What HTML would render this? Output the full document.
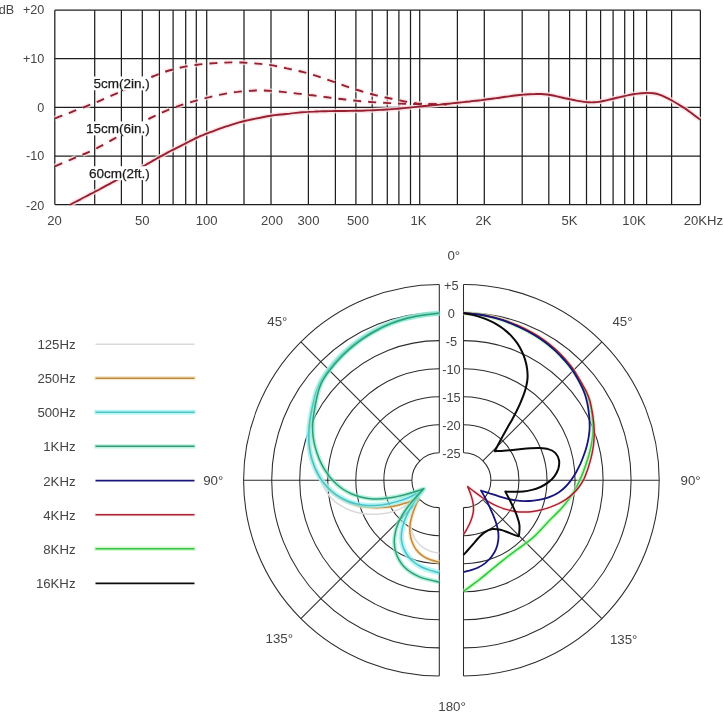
<!DOCTYPE html><html><head><meta charset="utf-8"><title>Frequency response and polar pattern</title>
<style>html,body{margin:0;padding:0;background:#fff}svg{display:block}text{font-family:"Liberation Sans",sans-serif}</style></head><body>
<svg width="723" height="723" viewBox="0 0 723 723">
<rect width="723" height="723" fill="#ffffff"/>
<g stroke="#1e1e1e" stroke-width="1.25" fill="none"><path d="M54.8 10.2 V204.6"/><path d="M94.7 10.2 V204.6"/><path d="M121.4 10.2 V204.6"/><path d="M142.3 10.2 V204.6"/><path d="M159.4 10.2 V204.6"/><path d="M173.1 10.2 V204.6"/><path d="M185.7 10.2 V204.6"/><path d="M196.3 10.2 V204.6"/><path d="M206.7 10.2 V204.6"/><path d="M244.0 10.2 V204.6"/><path d="M271.0 10.2 V204.6"/><path d="M308.4 10.2 V204.6"/><path d="M335.4 10.2 V204.6"/><path d="M355.9 10.2 V204.6"/><path d="M372.2 10.2 V204.6"/><path d="M387.3 10.2 V204.6"/><path d="M398.9 10.2 V204.6"/><path d="M410.5 10.2 V204.6"/><path d="M419.7 10.2 V204.6"/><path d="M457.4 10.2 V204.6"/><path d="M484.3 10.2 V204.6"/><path d="M522.2 10.2 V204.6"/><path d="M548.8 10.2 V204.6"/><path d="M569.6 10.2 V204.6"/><path d="M586.5 10.2 V204.6"/><path d="M600.6 10.2 V204.6"/><path d="M613.1 10.2 V204.6"/><path d="M624.7 10.2 V204.6"/><path d="M633.6 10.2 V204.6"/><path d="M646.6 10.2 V204.6"/><path d="M671.6 10.2 V204.6"/><path d="M700.4 10.2 V204.6"/><path d="M54.8 10.2 H700.4"/><path d="M54.8 58.5 H700.4"/><path d="M54.8 107.4 H700.4"/><path d="M54.8 156.2 H700.4"/><path d="M54.8 204.6 H700.4"/></g>
<g fill="none" stroke="#942030" stroke-linecap="butt">
<path d="M69.9 204.8 C70.8 204.3 73.5 203.0 75.2 202.0 C77.0 201.1 78.8 200.2 80.6 199.3 C82.3 198.3 84.1 197.4 85.9 196.5 C87.7 195.6 89.4 194.6 91.2 193.7 C93.0 192.8 94.8 191.8 96.5 190.9 C98.3 190.0 100.1 189.0 101.8 188.1 C103.6 187.1 105.3 186.2 107.1 185.2 C108.9 184.3 110.6 183.3 112.4 182.4 C114.2 181.4 115.9 180.5 117.7 179.5 C119.5 178.6 121.2 177.6 123.0 176.7 C124.8 175.8 126.6 174.9 128.4 174.0 C130.2 173.1 131.9 172.2 133.7 171.3 C135.5 170.4 137.3 169.5 139.1 168.6 C140.9 167.6 142.6 166.7 144.4 165.7 C146.1 164.7 147.8 163.7 149.6 162.7 C151.3 161.7 153.0 160.7 154.8 159.7 C156.5 158.7 158.2 157.7 160.0 156.7 C161.7 155.8 163.5 154.8 165.3 153.8 C167.0 152.9 168.8 151.9 170.5 151.0 C172.3 150.1 174.1 149.2 175.9 148.3 C177.7 147.4 179.5 146.5 181.3 145.6 C183.1 144.7 184.8 143.8 186.6 142.9 C188.4 142.0 190.2 141.0 192.0 140.1 C193.8 139.2 195.5 138.3 197.4 137.5 C199.2 136.6 201.0 135.8 202.9 135.1 C204.7 134.3 206.6 133.6 208.4 132.8 C210.3 132.1 212.2 131.5 214.1 130.8 C215.9 130.1 217.8 129.4 219.7 128.7 C221.6 128.1 223.5 127.4 225.4 126.7 C227.3 126.1 229.2 125.5 231.1 124.9 C233.0 124.3 234.9 123.7 236.8 123.1 C238.8 122.6 240.7 122.0 242.6 121.5 C244.6 121.0 246.5 120.6 248.5 120.1 C250.4 119.7 252.4 119.3 254.3 118.9 C256.3 118.5 258.3 118.1 260.2 117.7 C262.2 117.3 264.2 116.9 266.1 116.5 C268.1 116.2 270.1 115.8 272.0 115.5 C274.0 115.2 276.0 115.0 278.0 114.8 C280.0 114.6 282.0 114.4 284.0 114.2 C286.0 114.0 288.0 113.8 289.9 113.6 C291.9 113.3 293.9 113.1 295.9 112.9 C297.9 112.7 299.9 112.5 301.9 112.3 C303.9 112.2 305.9 112.0 307.9 111.9 C309.9 111.7 311.9 111.6 313.9 111.6 C315.9 111.5 317.9 111.5 319.9 111.4 C321.9 111.3 323.9 111.3 325.9 111.2 C327.9 111.2 329.9 111.1 331.9 111.1 C333.9 111.1 335.9 111.0 337.9 111.0 C339.9 111.0 341.9 111.0 343.9 111.0 C345.9 110.9 347.9 110.9 349.9 110.9 C351.9 110.9 353.9 110.9 355.9 110.8 C357.9 110.8 359.9 110.7 361.9 110.7 C363.9 110.6 365.9 110.5 367.9 110.4 C369.9 110.4 371.9 110.3 373.9 110.2 C375.9 110.1 377.9 110.0 379.9 109.9 C381.9 109.8 383.9 109.7 385.9 109.5 C387.9 109.4 389.9 109.3 391.9 109.1 C393.9 109.0 395.9 108.8 397.9 108.7 C399.9 108.5 401.9 108.3 403.9 108.1 C405.9 108.0 407.9 107.8 409.9 107.6 C411.9 107.4 413.9 107.2 415.9 106.9 C417.8 106.7 419.8 106.5 421.8 106.3 C423.8 106.1 425.8 105.9 427.8 105.7 C429.8 105.5 431.8 105.3 433.8 105.1 C435.8 104.9 437.8 104.7 439.8 104.6 C441.8 104.4 443.7 104.2 445.7 104.0 C447.7 103.8 449.7 103.6 451.7 103.4 C453.7 103.2 455.7 103.0 457.7 102.8 C459.7 102.6 461.7 102.4 463.7 102.1 C465.7 101.9 467.6 101.7 469.6 101.5 C471.6 101.2 473.6 101.0 475.6 100.8 C477.6 100.6 479.6 100.3 481.6 100.1 C483.6 99.9 485.6 99.6 487.5 99.3 C489.5 99.1 491.5 98.8 493.5 98.5 C495.5 98.2 497.5 98.0 499.4 97.7 C501.4 97.4 503.4 97.1 505.4 96.8 C507.4 96.6 509.3 96.3 511.3 96.0 C513.3 95.7 515.3 95.4 517.3 95.2 C519.3 95.0 521.3 94.7 523.3 94.6 C525.2 94.4 527.2 94.3 529.2 94.2 C531.2 94.1 533.2 94.0 535.2 94.0 C537.2 93.9 539.2 93.9 541.2 94.0 C543.2 94.1 545.2 94.3 547.2 94.5 C549.2 94.8 551.1 95.2 553.1 95.5 C555.1 95.9 557.0 96.4 559.0 96.8 C560.9 97.3 562.9 97.7 564.8 98.2 C566.8 98.6 568.7 99.0 570.7 99.4 C572.7 99.8 574.6 100.2 576.6 100.6 C578.6 100.9 580.5 101.3 582.5 101.6 C584.5 101.9 586.5 102.2 588.5 102.3 C590.4 102.4 592.4 102.4 594.4 102.3 C596.4 102.2 598.4 101.9 600.4 101.6 C602.3 101.3 604.3 100.8 606.2 100.4 C608.2 100.0 610.1 99.4 612.1 99.0 C614.0 98.5 616.0 98.0 617.9 97.5 C619.9 97.1 621.8 96.6 623.8 96.2 C625.7 95.7 627.7 95.3 629.6 94.9 C631.6 94.5 633.6 94.2 635.5 93.9 C637.5 93.6 639.5 93.4 641.5 93.2 C643.5 93.0 645.5 92.9 647.5 92.9 C649.5 92.9 651.4 93.0 653.4 93.3 C655.4 93.6 657.3 94.0 659.2 94.6 C661.1 95.2 662.9 96.0 664.7 96.8 C666.5 97.6 668.3 98.6 670.1 99.5 C671.8 100.5 673.6 101.5 675.3 102.5 C677.0 103.5 678.7 104.5 680.4 105.6 C682.1 106.6 683.8 107.7 685.5 108.8 C687.1 110.0 688.7 111.1 690.4 112.3 C692.0 113.5 693.6 114.7 695.2 115.9 C696.8 117.1 699.2 118.9 700.0 119.5" stroke-width="5" stroke="#fbdfe2" opacity="0.8"/>
<path d="M54.8 118.5 C56.2 118.0 60.4 116.3 63.2 115.2 C66.0 114.2 68.8 113.1 71.6 112.0 C74.4 110.9 77.2 109.8 80.0 108.7 C82.8 107.6 85.6 106.6 88.4 105.4 C91.2 104.3 93.9 103.2 96.7 102.1 C99.5 100.9 102.2 99.7 105.0 98.5 C107.7 97.3 110.5 96.1 113.2 94.9 C116.0 93.7 118.7 92.4 121.4 91.2 C124.1 89.9 126.8 88.6 129.5 87.3 C132.2 86.0 134.9 84.6 137.6 83.3 C140.3 82.0 143.1 80.8 145.8 79.5 C148.5 78.3 151.3 77.1 154.1 76.0 C156.8 74.8 159.6 73.7 162.5 72.7 C165.3 71.7 168.1 70.8 171.0 70.0 C173.9 69.2 176.8 68.5 179.7 67.8 C182.7 67.1 185.6 66.5 188.6 66.0 C191.5 65.5 194.5 65.1 197.5 64.7 C200.4 64.3 203.4 64.0 206.4 63.7 C209.4 63.5 212.4 63.3 215.4 63.1 C218.4 62.9 221.4 62.7 224.4 62.6 C227.4 62.5 230.4 62.4 233.4 62.4 C236.4 62.4 239.4 62.4 242.4 62.5 C245.4 62.7 248.4 62.9 251.3 63.1 C254.3 63.3 257.3 63.6 260.3 63.9 C263.3 64.2 266.3 64.5 269.2 64.9 C272.2 65.3 275.2 65.9 278.1 66.5 C281.0 67.0 284.0 67.7 286.9 68.4 C289.8 69.0 292.7 69.7 295.7 70.4 C298.6 71.0 301.5 71.7 304.4 72.4 C307.3 73.2 310.2 74.0 313.1 74.9 C316.0 75.8 318.8 76.7 321.6 77.7 C324.5 78.6 327.3 79.6 330.2 80.6 C333.0 81.5 335.8 82.5 338.7 83.5 C341.5 84.5 344.3 85.6 347.1 86.6 C350.0 87.6 352.8 88.6 355.6 89.5 C358.5 90.4 361.4 91.3 364.3 92.1 C367.1 93.0 370.0 93.8 372.9 94.5 C375.8 95.2 378.8 95.9 381.7 96.6 C384.6 97.3 387.6 97.9 390.5 98.5 C393.4 99.1 396.4 99.7 399.3 100.3 C402.3 100.9 405.2 101.5 408.2 102.0 C411.1 102.5 414.1 103.0 417.0 103.4 C420.0 103.7 423.0 103.9 426.0 104.0 C429.0 104.1 432.0 104.1 435.0 104.2 C438.0 104.2 442.0 104.2 444.0 104.3 C446.0 104.3 446.5 104.3 447.0 104.3" stroke-width="5" stroke="#fbdfe2" opacity="0.7" stroke-dasharray="8 7"/>
<path d="M54.8 166.3 C56.2 165.7 60.3 164.0 63.1 162.8 C65.9 161.7 68.7 160.5 71.4 159.3 C74.2 158.2 77.0 157.0 79.8 155.8 C82.5 154.7 85.3 153.6 88.1 152.3 C90.8 151.1 93.6 149.9 96.2 148.5 C98.9 147.2 101.5 145.7 104.2 144.3 C106.8 142.8 109.4 141.3 112.0 139.9 C114.7 138.4 117.3 136.9 119.9 135.4 C122.5 133.9 125.1 132.4 127.7 130.9 C130.3 129.3 132.9 127.8 135.5 126.3 C138.1 124.8 140.7 123.3 143.3 121.8 C145.9 120.4 148.6 119.0 151.3 117.6 C154.0 116.3 156.7 114.9 159.4 113.7 C162.1 112.4 164.9 111.2 167.7 110.1 C170.4 108.9 173.2 107.8 176.1 106.8 C178.9 105.8 181.7 104.9 184.6 104.0 C187.5 103.1 190.4 102.2 193.3 101.4 C196.1 100.5 199.0 99.7 202.0 99.0 C204.9 98.2 207.8 97.5 210.7 96.8 C213.6 96.1 216.6 95.5 219.5 94.9 C222.5 94.2 225.4 93.6 228.4 93.1 C231.3 92.6 234.3 92.2 237.3 91.9 C240.3 91.5 243.3 91.2 246.3 91.0 C249.3 90.8 252.3 90.6 255.3 90.5 C258.3 90.5 261.3 90.4 264.3 90.5 C267.3 90.6 270.3 90.8 273.3 91.0 C276.3 91.2 279.3 91.6 282.2 91.9 C285.2 92.2 288.2 92.5 291.2 92.9 C294.2 93.2 297.2 93.5 300.2 93.9 C303.2 94.2 306.2 94.6 309.1 95.0 C312.1 95.3 315.1 95.7 318.1 96.1 C321.1 96.5 324.0 96.9 327.0 97.3 C330.0 97.7 333.0 98.1 336.0 98.5 C339.0 98.9 341.9 99.2 344.9 99.5 C347.9 99.9 350.9 100.2 353.9 100.5 C356.9 100.8 359.9 101.1 362.9 101.4 C365.9 101.6 368.9 101.9 371.9 102.1 C374.9 102.3 377.9 102.5 380.9 102.6 C383.9 102.8 386.9 102.9 389.9 103.1 C392.9 103.2 395.9 103.3 398.9 103.5 C401.9 103.6 404.9 103.7 407.9 103.8 C410.9 104.0 413.9 104.1 416.9 104.1 C419.9 104.2 422.9 104.3 425.9 104.3 C429.0 104.3 432.0 104.3 435.0 104.3 C438.0 104.3 442.0 104.3 444.0 104.3 C446.0 104.3 446.5 104.3 447.0 104.3" stroke-width="5" stroke="#fbdfe2" opacity="0.7" stroke-dasharray="8 7"/>
<path d="M54.8 118.5 C56.2 118.0 60.4 116.3 63.2 115.2 C66.0 114.2 68.8 113.1 71.6 112.0 C74.4 110.9 77.2 109.8 80.0 108.7 C82.8 107.6 85.6 106.6 88.4 105.4 C91.2 104.3 93.9 103.2 96.7 102.1 C99.5 100.9 102.2 99.7 105.0 98.5 C107.7 97.3 110.5 96.1 113.2 94.9 C116.0 93.7 118.7 92.4 121.4 91.2 C124.1 89.9 126.8 88.6 129.5 87.3 C132.2 86.0 134.9 84.6 137.6 83.3 C140.3 82.0 143.1 80.8 145.8 79.5 C148.5 78.3 151.3 77.1 154.1 76.0 C156.8 74.8 159.6 73.7 162.5 72.7 C165.3 71.7 168.1 70.8 171.0 70.0 C173.9 69.2 176.8 68.5 179.7 67.8 C182.7 67.1 185.6 66.5 188.6 66.0 C191.5 65.5 194.5 65.1 197.5 64.7 C200.4 64.3 203.4 64.0 206.4 63.7 C209.4 63.5 212.4 63.3 215.4 63.1 C218.4 62.9 221.4 62.7 224.4 62.6 C227.4 62.5 230.4 62.4 233.4 62.4 C236.4 62.4 239.4 62.4 242.4 62.5 C245.4 62.7 248.4 62.9 251.3 63.1 C254.3 63.3 257.3 63.6 260.3 63.9 C263.3 64.2 266.3 64.5 269.2 64.9 C272.2 65.3 275.2 65.9 278.1 66.5 C281.0 67.0 284.0 67.7 286.9 68.4 C289.8 69.0 292.7 69.7 295.7 70.4 C298.6 71.0 301.5 71.7 304.4 72.4 C307.3 73.2 310.2 74.0 313.1 74.9 C316.0 75.8 318.8 76.7 321.6 77.7 C324.5 78.6 327.3 79.6 330.2 80.6 C333.0 81.5 335.8 82.5 338.7 83.5 C341.5 84.5 344.3 85.6 347.1 86.6 C350.0 87.6 352.8 88.6 355.6 89.5 C358.5 90.4 361.4 91.3 364.3 92.1 C367.1 93.0 370.0 93.8 372.9 94.5 C375.8 95.2 378.8 95.9 381.7 96.6 C384.6 97.3 387.6 97.9 390.5 98.5 C393.4 99.1 396.4 99.7 399.3 100.3 C402.3 100.9 405.2 101.5 408.2 102.0 C411.1 102.5 414.1 103.0 417.0 103.4 C420.0 103.7 423.0 103.9 426.0 104.0 C429.0 104.1 432.0 104.1 435.0 104.2 C438.0 104.2 442.0 104.2 444.0 104.3 C446.0 104.3 446.5 104.3 447.0 104.3" stroke-width="1.9" stroke-dasharray="8 7"/>
<path d="M54.8 166.3 C56.2 165.7 60.3 164.0 63.1 162.8 C65.9 161.7 68.7 160.5 71.4 159.3 C74.2 158.2 77.0 157.0 79.8 155.8 C82.5 154.7 85.3 153.6 88.1 152.3 C90.8 151.1 93.6 149.9 96.2 148.5 C98.9 147.2 101.5 145.7 104.2 144.3 C106.8 142.8 109.4 141.3 112.0 139.9 C114.7 138.4 117.3 136.9 119.9 135.4 C122.5 133.9 125.1 132.4 127.7 130.9 C130.3 129.3 132.9 127.8 135.5 126.3 C138.1 124.8 140.7 123.3 143.3 121.8 C145.9 120.4 148.6 119.0 151.3 117.6 C154.0 116.3 156.7 114.9 159.4 113.7 C162.1 112.4 164.9 111.2 167.7 110.1 C170.4 108.9 173.2 107.8 176.1 106.8 C178.9 105.8 181.7 104.9 184.6 104.0 C187.5 103.1 190.4 102.2 193.3 101.4 C196.1 100.5 199.0 99.7 202.0 99.0 C204.9 98.2 207.8 97.5 210.7 96.8 C213.6 96.1 216.6 95.5 219.5 94.9 C222.5 94.2 225.4 93.6 228.4 93.1 C231.3 92.6 234.3 92.2 237.3 91.9 C240.3 91.5 243.3 91.2 246.3 91.0 C249.3 90.8 252.3 90.6 255.3 90.5 C258.3 90.5 261.3 90.4 264.3 90.5 C267.3 90.6 270.3 90.8 273.3 91.0 C276.3 91.2 279.3 91.6 282.2 91.9 C285.2 92.2 288.2 92.5 291.2 92.9 C294.2 93.2 297.2 93.5 300.2 93.9 C303.2 94.2 306.2 94.6 309.1 95.0 C312.1 95.3 315.1 95.7 318.1 96.1 C321.1 96.5 324.0 96.9 327.0 97.3 C330.0 97.7 333.0 98.1 336.0 98.5 C339.0 98.9 341.9 99.2 344.9 99.5 C347.9 99.9 350.9 100.2 353.9 100.5 C356.9 100.8 359.9 101.1 362.9 101.4 C365.9 101.6 368.9 101.9 371.9 102.1 C374.9 102.3 377.9 102.5 380.9 102.6 C383.9 102.8 386.9 102.9 389.9 103.1 C392.9 103.2 395.9 103.3 398.9 103.5 C401.9 103.6 404.9 103.7 407.9 103.8 C410.9 104.0 413.9 104.1 416.9 104.1 C419.9 104.2 422.9 104.3 425.9 104.3 C429.0 104.3 432.0 104.3 435.0 104.3 C438.0 104.3 442.0 104.3 444.0 104.3 C446.0 104.3 446.5 104.3 447.0 104.3" stroke-width="1.9" stroke-dasharray="8 7"/>
<path d="M69.9 204.8 C70.8 204.3 73.5 203.0 75.2 202.0 C77.0 201.1 78.8 200.2 80.6 199.3 C82.3 198.3 84.1 197.4 85.9 196.5 C87.7 195.6 89.4 194.6 91.2 193.7 C93.0 192.8 94.8 191.8 96.5 190.9 C98.3 190.0 100.1 189.0 101.8 188.1 C103.6 187.1 105.3 186.2 107.1 185.2 C108.9 184.3 110.6 183.3 112.4 182.4 C114.2 181.4 115.9 180.5 117.7 179.5 C119.5 178.6 121.2 177.6 123.0 176.7 C124.8 175.8 126.6 174.9 128.4 174.0 C130.2 173.1 131.9 172.2 133.7 171.3 C135.5 170.4 137.3 169.5 139.1 168.6 C140.9 167.6 142.6 166.7 144.4 165.7 C146.1 164.7 147.8 163.7 149.6 162.7 C151.3 161.7 153.0 160.7 154.8 159.7 C156.5 158.7 158.2 157.7 160.0 156.7 C161.7 155.8 163.5 154.8 165.3 153.8 C167.0 152.9 168.8 151.9 170.5 151.0 C172.3 150.1 174.1 149.2 175.9 148.3 C177.7 147.4 179.5 146.5 181.3 145.6 C183.1 144.7 184.8 143.8 186.6 142.9 C188.4 142.0 190.2 141.0 192.0 140.1 C193.8 139.2 195.5 138.3 197.4 137.5 C199.2 136.6 201.0 135.8 202.9 135.1 C204.7 134.3 206.6 133.6 208.4 132.8 C210.3 132.1 212.2 131.5 214.1 130.8 C215.9 130.1 217.8 129.4 219.7 128.7 C221.6 128.1 223.5 127.4 225.4 126.7 C227.3 126.1 229.2 125.5 231.1 124.9 C233.0 124.3 234.9 123.7 236.8 123.1 C238.8 122.6 240.7 122.0 242.6 121.5 C244.6 121.0 246.5 120.6 248.5 120.1 C250.4 119.7 252.4 119.3 254.3 118.9 C256.3 118.5 258.3 118.1 260.2 117.7 C262.2 117.3 264.2 116.9 266.1 116.5 C268.1 116.2 270.1 115.8 272.0 115.5 C274.0 115.2 276.0 115.0 278.0 114.8 C280.0 114.6 282.0 114.4 284.0 114.2 C286.0 114.0 288.0 113.8 289.9 113.6 C291.9 113.3 293.9 113.1 295.9 112.9 C297.9 112.7 299.9 112.5 301.9 112.3 C303.9 112.2 305.9 112.0 307.9 111.9 C309.9 111.7 311.9 111.6 313.9 111.6 C315.9 111.5 317.9 111.5 319.9 111.4 C321.9 111.3 323.9 111.3 325.9 111.2 C327.9 111.2 329.9 111.1 331.9 111.1 C333.9 111.1 335.9 111.0 337.9 111.0 C339.9 111.0 341.9 111.0 343.9 111.0 C345.9 110.9 347.9 110.9 349.9 110.9 C351.9 110.9 353.9 110.9 355.9 110.8 C357.9 110.8 359.9 110.7 361.9 110.7 C363.9 110.6 365.9 110.5 367.9 110.4 C369.9 110.4 371.9 110.3 373.9 110.2 C375.9 110.1 377.9 110.0 379.9 109.9 C381.9 109.8 383.9 109.7 385.9 109.5 C387.9 109.4 389.9 109.3 391.9 109.1 C393.9 109.0 395.9 108.8 397.9 108.7 C399.9 108.5 401.9 108.3 403.9 108.1 C405.9 108.0 407.9 107.8 409.9 107.6 C411.9 107.4 413.9 107.2 415.9 106.9 C417.8 106.7 419.8 106.5 421.8 106.3 C423.8 106.1 425.8 105.9 427.8 105.7 C429.8 105.5 431.8 105.3 433.8 105.1 C435.8 104.9 437.8 104.7 439.8 104.6 C441.8 104.4 443.7 104.2 445.7 104.0 C447.7 103.8 449.7 103.6 451.7 103.4 C453.7 103.2 455.7 103.0 457.7 102.8 C459.7 102.6 461.7 102.4 463.7 102.1 C465.7 101.9 467.6 101.7 469.6 101.5 C471.6 101.2 473.6 101.0 475.6 100.8 C477.6 100.6 479.6 100.3 481.6 100.1 C483.6 99.9 485.6 99.6 487.5 99.3 C489.5 99.1 491.5 98.8 493.5 98.5 C495.5 98.2 497.5 98.0 499.4 97.7 C501.4 97.4 503.4 97.1 505.4 96.8 C507.4 96.6 509.3 96.3 511.3 96.0 C513.3 95.7 515.3 95.4 517.3 95.2 C519.3 95.0 521.3 94.7 523.3 94.6 C525.2 94.4 527.2 94.3 529.2 94.2 C531.2 94.1 533.2 94.0 535.2 94.0 C537.2 93.9 539.2 93.9 541.2 94.0 C543.2 94.1 545.2 94.3 547.2 94.5 C549.2 94.8 551.1 95.2 553.1 95.5 C555.1 95.9 557.0 96.4 559.0 96.8 C560.9 97.3 562.9 97.7 564.8 98.2 C566.8 98.6 568.7 99.0 570.7 99.4 C572.7 99.8 574.6 100.2 576.6 100.6 C578.6 100.9 580.5 101.3 582.5 101.6 C584.5 101.9 586.5 102.2 588.5 102.3 C590.4 102.4 592.4 102.4 594.4 102.3 C596.4 102.2 598.4 101.9 600.4 101.6 C602.3 101.3 604.3 100.8 606.2 100.4 C608.2 100.0 610.1 99.4 612.1 99.0 C614.0 98.5 616.0 98.0 617.9 97.5 C619.9 97.1 621.8 96.6 623.8 96.2 C625.7 95.7 627.7 95.3 629.6 94.9 C631.6 94.5 633.6 94.2 635.5 93.9 C637.5 93.6 639.5 93.4 641.5 93.2 C643.5 93.0 645.5 92.9 647.5 92.9 C649.5 92.9 651.4 93.0 653.4 93.3 C655.4 93.6 657.3 94.0 659.2 94.6 C661.1 95.2 662.9 96.0 664.7 96.8 C666.5 97.6 668.3 98.6 670.1 99.5 C671.8 100.5 673.6 101.5 675.3 102.5 C677.0 103.5 678.7 104.5 680.4 105.6 C682.1 106.6 683.8 107.7 685.5 108.8 C687.1 110.0 688.7 111.1 690.4 112.3 C692.0 113.5 693.6 114.7 695.2 115.9 C696.8 117.1 699.2 118.9 700.0 119.5" stroke-width="1.9"/>
</g>
<g fill="#ffffff"><rect x="92.5" y="76.5" width="58" height="13.8"/><rect x="85.8" y="121.4" width="64.7" height="14"/><rect x="87.3" y="166.2" width="63.2" height="13.8"/></g>
<g font-size="13.5" fill="#1a1a1a" stroke="#1a1a1a" stroke-width="0.25" text-anchor="end"><text x="149.8" y="87.8">5cm(2in.)</text><text x="149.8" y="132.9">15cm(6in.)</text><text x="149.8" y="177.5">60cm(2ft.)</text></g>
<g font-size="12.6" fill="#444" text-anchor="end"><text x="14.2" y="14.3">dB</text><text x="44.3" y="14.2">+20</text><text x="44.3" y="62.6">+10</text><text x="44.3" y="111.5">0</text><text x="44.3" y="160.3">-10</text><text x="44.3" y="210">-20</text></g>
<g font-size="13.1" fill="#444" text-anchor="middle"><text x="54.5" y="224.6">20</text><text x="142.3" y="224.6">50</text><text x="206.7" y="224.6">100</text><text x="272.0" y="224.6">200</text><text x="308.5" y="224.6">300</text><text x="358.0" y="224.6">500</text><text x="418.5" y="224.6">1K</text><text x="483.5" y="224.6">2K</text><text x="569.5" y="224.6">5K</text><text x="634.0" y="224.6">10K</text><text x="723" y="224.6" text-anchor="end">20KHz</text></g>
<g font-size="13.2" fill="#444" text-anchor="end"><text x="75.5" y="349.3">125Hz</text><text x="75.5" y="383.2">250Hz</text><text x="75.5" y="417.2">500Hz</text><text x="75.5" y="451.3">1KHz</text><text x="75.5" y="485.7">2KHz</text><text x="75.5" y="519.7">4KHz</text><text x="75.5" y="553.8">8KHz</text><text x="75.5" y="588.3">16KHz</text></g><g fill="none"><path d="M95.5 344.3 H194.5" stroke="#d9d9d9" stroke-width="1.6"/><path d="M94.5 378.2 H195.5" stroke="#f6dcaa" stroke-width="4.2" opacity="0.65"/><path d="M95.5 378.2 H194.5" stroke="#b88a48" stroke-width="1.5"/><path d="M94.5 412.2 H195.5" stroke="#98f0f0" stroke-width="4.8" opacity="0.7"/><path d="M95.5 412.2 H194.5" stroke="#52c4c8" stroke-width="1.5"/><path d="M94.5 446.3 H195.5" stroke="#88e8c8" stroke-width="4.2" opacity="0.6"/><path d="M95.5 446.3 H194.5" stroke="#3a9c7a" stroke-width="1.5"/><path d="M95.5 480.7 H194.5" stroke="#16167a" stroke-width="1.7"/><path d="M94.5 514.7 H195.5" stroke="#f8c8cc" stroke-width="3.6" opacity="0.4"/><path d="M95.5 514.7 H194.5" stroke="#a82434" stroke-width="1.5"/><path d="M94.5 548.8 H195.5" stroke="#b0f4ac" stroke-width="4.4" opacity="0.6"/><path d="M95.5 548.8 H194.5" stroke="#38c044" stroke-width="1.6"/><path d="M95.5 583.3 H194.5" stroke="#0a0a0a" stroke-width="1.8"/></g>
<g stroke="#2c2c2c" stroke-width="1.05" fill="none"><path d="M439.3 452.80 A27.39 27.39 0 0 0 439.3 507.60"/><path d="M463.5 452.80 A27.39 27.39 0 0 1 463.5 507.60"/><path d="M439.3 424.75 A55.44 55.44 0 0 0 439.3 535.65"/><path d="M463.5 424.75 A55.44 55.44 0 0 1 463.5 535.65"/><path d="M439.3 396.70 A83.49 83.49 0 0 0 439.3 563.70"/><path d="M463.5 396.70 A83.49 83.49 0 0 1 463.5 563.70"/><path d="M439.3 368.65 A111.54 111.54 0 0 0 439.3 591.75"/><path d="M463.5 368.65 A111.54 111.54 0 0 1 463.5 591.75"/><path d="M439.3 340.60 A139.59 139.59 0 0 0 439.3 619.80"/><path d="M463.5 340.60 A139.59 139.59 0 0 1 463.5 619.80"/><path d="M439.3 312.55 A167.64 167.64 0 0 0 439.3 647.85"/><path d="M463.5 312.55 A167.64 167.64 0 0 1 463.5 647.85"/><path d="M439.3 284.50 A195.69 195.69 0 0 0 439.3 675.90"/><path d="M463.5 284.50 A195.69 195.69 0 0 1 463.5 675.90"/><path d="M439.3 284.5 V452.8 M439.3 507.6 V675.9"/><path d="M463.5 284.5 V452.8 M463.5 507.6 V675.9"/><path d="M243.6 480.2 H411.9 M490.9 480.2 H659.2"/><path d="M419.9 460.8 L300.9 341.8"/><path d="M419.9 499.6 L300.9 618.6"/><path d="M482.9 460.8 L601.9 341.8"/><path d="M482.9 499.6 L601.9 618.6"/></g>
<g font-size="12.8" fill="#444" text-anchor="middle"><text x="451.4" y="289.7">+5</text><text x="451.4" y="317.7">0</text><text x="451.4" y="345.8">-5</text><text x="451.4" y="373.8">-10</text><text x="451.4" y="401.9">-15</text><text x="451.4" y="429.9">-20</text><text x="451.4" y="458.0">-25</text></g>
<g font-size="13.3" fill="#444" text-anchor="middle"><text x="453.8" y="259.5">0°</text><text x="277.3" y="326.4">45°</text><text x="622.5" y="326.3">45°</text><text x="213.2" y="485.3">90°</text><text x="690.6" y="485.4">90°</text><text x="279.3" y="643.3">135°</text><text x="623.7" y="643.8">135°</text><text x="452.1" y="711.4">180°</text></g>
<path d="M439.3 313.2 C437.8 313.3 433.3 313.7 430.3 314.1 C427.3 314.4 424.3 314.7 421.3 315.2 C418.3 315.7 415.3 316.2 412.4 316.8 C409.4 317.4 406.5 318.1 403.5 318.9 C400.6 319.7 397.7 320.5 394.9 321.5 C392.0 322.5 389.2 323.6 386.4 324.8 C383.7 326.0 380.9 327.3 378.2 328.6 C375.5 330.0 372.9 331.4 370.3 332.9 C367.6 334.4 365.1 336.0 362.6 337.7 C360.1 339.4 357.6 341.2 355.2 343.0 C352.8 344.8 350.5 346.8 348.2 348.7 C345.9 350.7 343.7 352.7 341.5 354.9 C339.4 357.0 337.3 359.2 335.4 361.5 C333.4 363.7 331.4 366.1 329.6 368.5 C327.7 370.8 325.9 373.2 324.2 375.8 C322.6 378.3 321.0 380.8 319.7 383.5 C318.4 386.2 317.3 389.0 316.3 391.9 C315.4 394.7 314.6 397.7 313.9 400.6 C313.2 403.5 312.6 406.5 312.0 409.4 C311.4 412.4 310.8 415.4 310.3 418.4 C309.8 421.3 309.4 424.3 309.1 427.3 C308.8 430.3 308.7 433.3 308.7 436.4 C308.7 439.4 308.9 442.4 309.2 445.4 C309.5 448.4 309.9 451.4 310.6 454.3 C311.2 457.2 312.1 460.1 313.1 463.0 C314.0 465.8 315.2 468.6 316.4 471.4 C317.6 474.2 318.9 476.9 320.2 479.6 C321.5 482.3 322.7 485.1 324.2 487.7 C325.6 490.4 326.9 493.0 328.8 495.3 C330.6 497.6 332.7 499.7 335.0 501.6 C337.3 503.5 339.9 505.1 342.5 506.6 C345.1 508.0 347.9 509.3 350.7 510.4 C353.5 511.4 356.4 512.3 359.3 513.0 C362.2 513.6 365.2 514.0 368.2 514.2 C371.2 514.4 374.2 514.3 377.2 514.2 C380.2 514.0 383.2 513.7 386.2 513.2 C389.1 512.7 392.0 512.0 394.9 511.0 C397.7 510.1 400.4 508.8 403.1 507.4 C405.8 506.1 408.4 504.5 411.0 503.0 C413.6 501.4 417.4 499.0 418.7 498.2 L418.7 498.2 C418.1 499.6 416.3 503.9 415.2 506.7 C414.2 509.6 413.0 512.4 412.3 515.3 C411.6 518.3 410.9 521.3 410.9 524.2 C410.9 527.2 411.4 530.2 412.3 533.0 C413.2 535.8 414.6 538.5 416.3 540.9 C418.0 543.3 420.2 545.5 422.5 547.2 C424.9 548.9 427.7 550.2 430.5 551.2 C433.3 552.2 437.8 553.0 439.3 553.4 " fill="none" stroke="#dadada" stroke-width="1.6" stroke-linejoin="round"/>
<path d="M439.3 313.2 C437.8 313.3 433.3 313.7 430.3 314.0 C427.4 314.4 424.4 314.7 421.4 315.2 C418.4 315.6 415.5 316.2 412.6 316.8 C409.6 317.4 406.7 318.0 403.8 318.8 C400.9 319.6 398.0 320.5 395.2 321.4 C392.4 322.4 389.6 323.5 386.8 324.7 C384.0 325.8 381.3 327.1 378.6 328.4 C375.9 329.8 373.3 331.2 370.7 332.7 C368.1 334.2 365.6 335.7 363.1 337.4 C360.6 339.1 358.1 340.8 355.7 342.6 C353.3 344.4 351.0 346.3 348.7 348.3 C346.5 350.2 344.2 352.2 342.1 354.3 C339.9 356.4 337.9 358.6 335.9 360.8 C333.9 363.1 332.0 365.4 330.1 367.7 C328.3 370.1 326.4 372.5 324.8 375.0 C323.1 377.4 321.5 380.0 320.1 382.6 C318.8 385.3 317.7 388.0 316.7 390.8 C315.7 393.6 314.9 396.6 314.2 399.5 C313.4 402.4 312.8 405.3 312.2 408.2 C311.6 411.2 311.0 414.1 310.5 417.1 C310.0 420.0 309.5 423.0 309.2 426.0 C308.9 429.0 308.8 432.0 308.7 434.9 C308.7 437.9 308.8 440.9 309.0 443.9 C309.3 446.9 309.7 449.9 310.3 452.8 C310.8 455.7 311.6 458.6 312.5 461.5 C313.5 464.3 314.6 467.1 315.8 469.8 C317.1 472.5 318.5 475.2 320.0 477.7 C321.6 480.2 323.4 482.6 325.3 484.9 C327.2 487.2 329.2 489.4 331.4 491.4 C333.6 493.4 336.0 495.3 338.5 496.9 C340.9 498.6 343.5 500.1 346.2 501.4 C348.9 502.7 351.7 503.8 354.5 504.7 C357.4 505.5 360.3 506.2 363.2 506.7 C366.2 507.1 369.2 507.4 372.1 507.5 C375.1 507.7 378.1 507.7 381.1 507.5 C384.1 507.4 387.1 507.1 390.1 506.7 C393.0 506.2 396.0 505.6 398.9 504.9 C401.8 504.2 404.6 503.4 407.5 502.5 C410.3 501.5 414.0 500.0 415.9 499.3 C417.8 498.6 418.2 498.4 418.7 498.2 L418.7 498.2 C418.1 499.6 416.3 503.8 415.2 506.7 C414.1 509.5 413.0 512.4 412.1 515.3 C411.3 518.2 410.5 521.1 410.1 524.1 C409.8 527.1 409.7 530.1 410.0 533.1 C410.3 536.0 411.0 539.1 412.0 541.8 C413.0 544.6 414.4 547.3 416.2 549.7 C418.0 552.0 420.2 554.1 422.6 555.8 C425.0 557.5 427.7 558.8 430.5 559.8 C433.3 560.9 437.8 561.7 439.3 562.1 " fill="none" stroke="#f8dca8" stroke-width="4" opacity="0.6" stroke-linejoin="round"/>
<path d="M439.3 313.2 C437.8 313.3 433.3 313.7 430.3 314.0 C427.4 314.4 424.4 314.7 421.4 315.2 C418.4 315.6 415.5 316.2 412.6 316.8 C409.6 317.4 406.7 318.0 403.8 318.8 C400.9 319.6 398.0 320.5 395.2 321.4 C392.4 322.4 389.6 323.5 386.8 324.7 C384.0 325.8 381.3 327.1 378.6 328.4 C375.9 329.8 373.3 331.2 370.7 332.7 C368.1 334.2 365.6 335.7 363.1 337.4 C360.6 339.1 358.1 340.8 355.7 342.6 C353.3 344.4 351.0 346.3 348.7 348.3 C346.5 350.2 344.2 352.2 342.1 354.3 C339.9 356.4 337.9 358.6 335.9 360.8 C333.9 363.1 332.0 365.4 330.1 367.7 C328.3 370.1 326.4 372.5 324.8 375.0 C323.1 377.4 321.5 380.0 320.1 382.6 C318.8 385.3 317.7 388.0 316.7 390.8 C315.7 393.6 314.9 396.6 314.2 399.5 C313.4 402.4 312.8 405.3 312.2 408.2 C311.6 411.2 311.0 414.1 310.5 417.1 C310.0 420.0 309.5 423.0 309.2 426.0 C308.9 429.0 308.8 432.0 308.7 434.9 C308.7 437.9 308.8 440.9 309.0 443.9 C309.3 446.9 309.7 449.9 310.3 452.8 C310.8 455.7 311.6 458.6 312.5 461.5 C313.5 464.3 314.6 467.1 315.8 469.8 C317.1 472.5 318.5 475.2 320.0 477.7 C321.6 480.2 323.4 482.6 325.3 484.9 C327.2 487.2 329.2 489.4 331.4 491.4 C333.6 493.4 336.0 495.3 338.5 496.9 C340.9 498.6 343.5 500.1 346.2 501.4 C348.9 502.7 351.7 503.8 354.5 504.7 C357.4 505.5 360.3 506.2 363.2 506.7 C366.2 507.1 369.2 507.4 372.1 507.5 C375.1 507.7 378.1 507.7 381.1 507.5 C384.1 507.4 387.1 507.1 390.1 506.7 C393.0 506.2 396.0 505.6 398.9 504.9 C401.8 504.2 404.6 503.4 407.5 502.5 C410.3 501.5 414.0 500.0 415.9 499.3 C417.8 498.6 418.2 498.4 418.7 498.2 L418.7 498.2 C418.1 499.6 416.3 503.8 415.2 506.7 C414.1 509.5 413.0 512.4 412.1 515.3 C411.3 518.2 410.5 521.1 410.1 524.1 C409.8 527.1 409.7 530.1 410.0 533.1 C410.3 536.0 411.0 539.1 412.0 541.8 C413.0 544.6 414.4 547.3 416.2 549.7 C418.0 552.0 420.2 554.1 422.6 555.8 C425.0 557.5 427.7 558.8 430.5 559.8 C433.3 560.9 437.8 561.7 439.3 562.1 " fill="none" stroke="#c08a40" stroke-width="1.5" stroke-linejoin="round"/>
<path d="M439.3 313.2 C437.8 313.3 433.3 313.7 430.3 314.0 C427.3 314.4 424.3 314.7 421.4 315.2 C418.4 315.6 415.4 316.2 412.5 316.8 C409.5 317.4 406.6 318.1 403.7 318.8 C400.8 319.6 397.9 320.5 395.1 321.5 C392.2 322.5 389.4 323.5 386.7 324.7 C383.9 325.9 381.2 327.2 378.5 328.5 C375.8 329.8 373.1 331.3 370.5 332.8 C367.9 334.3 365.4 335.9 362.9 337.5 C360.4 339.2 357.9 341.0 355.5 342.8 C353.1 344.6 350.8 346.5 348.5 348.5 C346.2 350.4 344.0 352.4 341.9 354.5 C339.7 356.6 337.7 358.8 335.7 361.1 C333.7 363.3 331.8 365.7 329.9 368.0 C328.1 370.4 326.2 372.8 324.6 375.3 C322.9 377.8 321.3 380.3 320.0 383.0 C318.6 385.7 317.5 388.4 316.5 391.3 C315.5 394.1 314.8 397.0 314.1 399.9 C313.3 402.8 312.7 405.8 312.1 408.7 C311.5 411.7 310.9 414.6 310.4 417.6 C309.9 420.6 309.5 423.5 309.2 426.5 C308.9 429.5 308.7 432.5 308.7 435.5 C308.7 438.5 308.8 441.5 309.1 444.5 C309.4 447.5 309.8 450.5 310.4 453.4 C311.0 456.3 311.8 459.2 312.8 462.1 C313.7 464.9 314.8 467.7 316.1 470.4 C317.4 473.1 318.8 475.8 320.4 478.3 C322.1 480.8 323.9 483.2 325.9 485.4 C327.8 487.6 330.0 489.8 332.2 491.7 C334.5 493.6 337.0 495.3 339.5 496.9 C342.1 498.4 344.8 499.8 347.5 501.0 C350.2 502.1 353.1 503.1 356.0 503.8 C358.9 504.5 361.9 504.9 364.8 505.2 C367.8 505.5 370.8 505.6 373.8 505.5 C376.8 505.4 379.8 505.2 382.8 504.8 C385.7 504.3 388.7 503.7 391.6 503.0 C394.5 502.3 397.4 501.5 400.3 500.6 C403.1 499.7 406.0 498.6 408.7 497.5 C411.5 496.3 414.6 494.7 416.8 493.5 C419.0 492.4 421.1 491.0 422.0 490.5 L422.0 490.5 C421.1 491.8 418.5 495.5 416.8 498.0 C415.1 500.6 413.4 503.1 411.9 505.7 C410.3 508.4 408.8 511.0 407.5 513.7 C406.2 516.5 405.0 519.3 404.0 522.1 C403.1 525.0 402.2 528.0 401.8 530.9 C401.3 533.9 401.1 536.9 401.4 539.8 C401.7 542.7 402.5 545.7 403.6 548.4 C404.7 551.1 406.3 553.8 408.1 556.2 C409.9 558.5 412.0 560.7 414.4 562.5 C416.7 564.3 419.3 565.9 422.0 567.2 C424.7 568.5 427.6 569.5 430.5 570.4 C433.4 571.4 437.8 572.4 439.3 572.8 " fill="none" stroke="#98f0f0" stroke-width="5.4" opacity="0.7" stroke-linejoin="round"/>
<path d="M439.3 313.2 C437.8 313.3 433.3 313.7 430.3 314.0 C427.3 314.4 424.3 314.7 421.4 315.2 C418.4 315.6 415.4 316.2 412.5 316.8 C409.5 317.4 406.6 318.1 403.7 318.8 C400.8 319.6 397.9 320.5 395.1 321.5 C392.2 322.5 389.4 323.5 386.7 324.7 C383.9 325.9 381.2 327.2 378.5 328.5 C375.8 329.8 373.1 331.3 370.5 332.8 C367.9 334.3 365.4 335.9 362.9 337.5 C360.4 339.2 357.9 341.0 355.5 342.8 C353.1 344.6 350.8 346.5 348.5 348.5 C346.2 350.4 344.0 352.4 341.9 354.5 C339.7 356.6 337.7 358.8 335.7 361.1 C333.7 363.3 331.8 365.7 329.9 368.0 C328.1 370.4 326.2 372.8 324.6 375.3 C322.9 377.8 321.3 380.3 320.0 383.0 C318.6 385.7 317.5 388.4 316.5 391.3 C315.5 394.1 314.8 397.0 314.1 399.9 C313.3 402.8 312.7 405.8 312.1 408.7 C311.5 411.7 310.9 414.6 310.4 417.6 C309.9 420.6 309.5 423.5 309.2 426.5 C308.9 429.5 308.7 432.5 308.7 435.5 C308.7 438.5 308.8 441.5 309.1 444.5 C309.4 447.5 309.8 450.5 310.4 453.4 C311.0 456.3 311.8 459.2 312.8 462.1 C313.7 464.9 314.8 467.7 316.1 470.4 C317.4 473.1 318.8 475.8 320.4 478.3 C322.1 480.8 323.9 483.2 325.9 485.4 C327.8 487.6 330.0 489.8 332.2 491.7 C334.5 493.6 337.0 495.3 339.5 496.9 C342.1 498.4 344.8 499.8 347.5 501.0 C350.2 502.1 353.1 503.1 356.0 503.8 C358.9 504.5 361.9 504.9 364.8 505.2 C367.8 505.5 370.8 505.6 373.8 505.5 C376.8 505.4 379.8 505.2 382.8 504.8 C385.7 504.3 388.7 503.7 391.6 503.0 C394.5 502.3 397.4 501.5 400.3 500.6 C403.1 499.7 406.0 498.6 408.7 497.5 C411.5 496.3 414.6 494.7 416.8 493.5 C419.0 492.4 421.1 491.0 422.0 490.5 L422.0 490.5 C421.1 491.8 418.5 495.5 416.8 498.0 C415.1 500.6 413.4 503.1 411.9 505.7 C410.3 508.4 408.8 511.0 407.5 513.7 C406.2 516.5 405.0 519.3 404.0 522.1 C403.1 525.0 402.2 528.0 401.8 530.9 C401.3 533.9 401.1 536.9 401.4 539.8 C401.7 542.7 402.5 545.7 403.6 548.4 C404.7 551.1 406.3 553.8 408.1 556.2 C409.9 558.5 412.0 560.7 414.4 562.5 C416.7 564.3 419.3 565.9 422.0 567.2 C424.7 568.5 427.6 569.5 430.5 570.4 C433.4 571.4 437.8 572.4 439.3 572.8 " fill="none" stroke="#48c4c8" stroke-width="1.5" stroke-linejoin="round"/>
<path d="M439.3 313.2 C437.8 313.4 433.3 313.8 430.4 314.2 C427.4 314.5 424.4 314.9 421.4 315.4 C418.5 315.9 415.5 316.4 412.6 317.1 C409.7 317.7 406.8 318.4 403.9 319.2 C401.0 320.1 398.1 321.0 395.3 322.0 C392.5 323.0 389.7 324.1 387.0 325.3 C384.2 326.5 381.5 327.8 378.9 329.2 C376.2 330.5 373.6 332.0 371.0 333.5 C368.4 335.1 365.9 336.7 363.4 338.3 C360.9 340.0 358.5 341.8 356.2 343.7 C353.8 345.5 351.5 347.4 349.2 349.4 C347.0 351.3 344.7 353.4 342.6 355.5 C340.5 357.6 338.5 359.8 336.5 362.0 C334.5 364.3 332.6 366.6 330.7 368.9 C328.8 371.3 327.0 373.6 325.3 376.1 C323.7 378.6 322.2 381.2 321.0 383.9 C319.8 386.6 318.9 389.4 318.1 392.3 C317.3 395.1 316.7 398.1 316.1 401.0 C315.5 404.0 315.0 406.9 314.5 409.9 C314.0 412.8 313.5 415.8 313.1 418.8 C312.8 421.7 312.6 424.7 312.6 427.7 C312.6 430.7 312.7 433.7 313.1 436.6 C313.5 439.6 314.0 442.5 314.7 445.4 C315.5 448.3 316.3 451.2 317.3 454.0 C318.3 456.8 319.4 459.6 320.7 462.3 C322.0 465.0 323.4 467.7 325.0 470.2 C326.6 472.7 328.3 475.2 330.2 477.5 C332.1 479.8 334.2 481.9 336.4 484.0 C338.6 486.0 340.9 487.8 343.4 489.5 C345.8 491.1 348.5 492.5 351.2 493.8 C353.9 495.0 356.7 495.9 359.6 496.7 C362.5 497.5 365.4 498.1 368.4 498.4 C371.3 498.8 374.3 499.0 377.3 499.0 C380.3 498.9 383.3 498.7 386.2 498.3 C389.2 498.0 392.2 497.5 395.1 496.9 C398.0 496.3 401.0 495.7 403.9 495.0 C406.8 494.2 409.7 493.4 412.5 492.5 C415.4 491.6 419.2 490.3 421.1 489.7 C423.0 489.0 423.4 488.9 423.9 488.7 L423.9 488.7 C422.8 489.8 419.6 493.0 417.6 495.2 C415.6 497.5 413.5 499.7 411.6 502.1 C409.7 504.4 407.9 506.8 406.1 509.3 C404.4 511.7 402.7 514.3 401.3 516.9 C399.8 519.5 398.5 522.2 397.5 525.0 C396.4 527.8 395.6 530.8 395.1 533.7 C394.5 536.6 394.2 539.6 394.3 542.6 C394.4 545.5 394.8 548.5 395.5 551.4 C396.3 554.2 397.4 557.0 398.9 559.6 C400.3 562.2 402.1 564.6 404.1 566.7 C406.2 568.9 408.5 570.8 411.0 572.4 C413.5 574.0 416.2 575.4 418.9 576.6 C421.7 577.7 424.6 578.6 427.5 579.4 C430.4 580.2 434.4 581.0 436.3 581.4 C438.3 581.8 438.8 581.9 439.3 582.0 " fill="none" stroke="#80e8c4" stroke-width="4.4" opacity="0.6" stroke-linejoin="round"/>
<path d="M439.3 313.2 C437.8 313.4 433.3 313.8 430.4 314.2 C427.4 314.5 424.4 314.9 421.4 315.4 C418.5 315.9 415.5 316.4 412.6 317.1 C409.7 317.7 406.8 318.4 403.9 319.2 C401.0 320.1 398.1 321.0 395.3 322.0 C392.5 323.0 389.7 324.1 387.0 325.3 C384.2 326.5 381.5 327.8 378.9 329.2 C376.2 330.5 373.6 332.0 371.0 333.5 C368.4 335.1 365.9 336.7 363.4 338.3 C360.9 340.0 358.5 341.8 356.2 343.7 C353.8 345.5 351.5 347.4 349.2 349.4 C347.0 351.3 344.7 353.4 342.6 355.5 C340.5 357.6 338.5 359.8 336.5 362.0 C334.5 364.3 332.6 366.6 330.7 368.9 C328.8 371.3 327.0 373.6 325.3 376.1 C323.7 378.6 322.2 381.2 321.0 383.9 C319.8 386.6 318.9 389.4 318.1 392.3 C317.3 395.1 316.7 398.1 316.1 401.0 C315.5 404.0 315.0 406.9 314.5 409.9 C314.0 412.8 313.5 415.8 313.1 418.8 C312.8 421.7 312.6 424.7 312.6 427.7 C312.6 430.7 312.7 433.7 313.1 436.6 C313.5 439.6 314.0 442.5 314.7 445.4 C315.5 448.3 316.3 451.2 317.3 454.0 C318.3 456.8 319.4 459.6 320.7 462.3 C322.0 465.0 323.4 467.7 325.0 470.2 C326.6 472.7 328.3 475.2 330.2 477.5 C332.1 479.8 334.2 481.9 336.4 484.0 C338.6 486.0 340.9 487.8 343.4 489.5 C345.8 491.1 348.5 492.5 351.2 493.8 C353.9 495.0 356.7 495.9 359.6 496.7 C362.5 497.5 365.4 498.1 368.4 498.4 C371.3 498.8 374.3 499.0 377.3 499.0 C380.3 498.9 383.3 498.7 386.2 498.3 C389.2 498.0 392.2 497.5 395.1 496.9 C398.0 496.3 401.0 495.7 403.9 495.0 C406.8 494.2 409.7 493.4 412.5 492.5 C415.4 491.6 419.2 490.3 421.1 489.7 C423.0 489.0 423.4 488.9 423.9 488.7 L423.9 488.7 C422.8 489.8 419.6 493.0 417.6 495.2 C415.6 497.5 413.5 499.7 411.6 502.1 C409.7 504.4 407.9 506.8 406.1 509.3 C404.4 511.7 402.7 514.3 401.3 516.9 C399.8 519.5 398.5 522.2 397.5 525.0 C396.4 527.8 395.6 530.8 395.1 533.7 C394.5 536.6 394.2 539.6 394.3 542.6 C394.4 545.5 394.8 548.5 395.5 551.4 C396.3 554.2 397.4 557.0 398.9 559.6 C400.3 562.2 402.1 564.6 404.1 566.7 C406.2 568.9 408.5 570.8 411.0 572.4 C413.5 574.0 416.2 575.4 418.9 576.6 C421.7 577.7 424.6 578.6 427.5 579.4 C430.4 580.2 434.4 581.0 436.3 581.4 C438.3 581.8 438.8 581.9 439.3 582.0 " fill="none" stroke="#2f9e78" stroke-width="1.5" stroke-linejoin="round"/>
<path d="M463.5 313.1 C465.0 313.2 469.5 313.5 472.5 313.8 C475.5 314.2 478.5 314.5 481.5 314.9 C484.5 315.4 487.4 316.0 490.4 316.7 C493.3 317.4 496.2 318.2 499.1 319.1 C502.0 319.9 504.8 320.9 507.6 322.0 C510.5 323.0 513.2 324.2 516.0 325.4 C518.8 326.6 521.5 327.9 524.2 329.3 C526.9 330.6 529.6 332.0 532.2 333.5 C534.8 335.0 537.4 336.6 539.9 338.3 C542.4 339.9 544.8 341.7 547.2 343.6 C549.6 345.4 551.9 347.4 554.1 349.4 C556.3 351.4 558.5 353.5 560.6 355.7 C562.7 357.8 564.7 360.0 566.7 362.3 C568.6 364.6 570.5 367.0 572.2 369.4 C574.0 371.9 575.5 374.5 577.1 377.1 C578.6 379.6 580.2 382.2 581.7 384.8 C583.2 387.4 584.9 389.9 586.2 392.6 C587.4 395.3 588.5 398.1 589.3 400.9 C590.2 403.8 590.7 406.8 591.2 409.7 C591.7 412.7 592.1 415.7 592.4 418.7 C592.7 421.7 593.0 424.7 593.0 427.7 C593.0 430.7 592.9 433.7 592.6 436.7 C592.3 439.7 591.8 442.7 591.2 445.6 C590.6 448.6 589.8 451.5 589.1 454.4 C588.3 457.3 587.4 460.2 586.4 463.0 C585.5 465.9 584.4 468.8 583.4 471.6 C582.3 474.4 581.2 477.2 579.9 479.9 C578.7 482.7 577.4 485.4 576.0 488.1 C574.5 490.7 573.0 493.3 571.3 495.8 C569.6 498.3 567.8 500.7 565.9 503.1 C564.1 505.4 562.0 507.6 560.0 509.9 C557.9 512.1 555.8 514.2 553.6 516.3 C551.5 518.4 549.4 520.5 547.3 522.7 C545.2 524.9 543.2 527.2 541.2 529.4 C539.1 531.6 537.1 533.8 534.9 535.9 C532.7 537.9 530.4 539.8 528.0 541.7 C525.6 543.5 523.1 545.2 520.7 547.0 C518.3 548.8 515.8 550.5 513.4 552.3 C510.9 554.1 508.5 555.9 506.1 557.8 C503.8 559.6 501.4 561.5 499.1 563.4 C496.8 565.4 494.5 567.3 492.1 569.2 C489.8 571.2 487.5 573.1 485.1 575.0 C482.8 576.9 480.4 578.7 478.0 580.6 C475.6 582.4 473.2 584.2 470.8 586.0 C468.4 587.8 464.7 590.5 463.5 591.4 " fill="none" stroke="#b0f4ac" stroke-width="4.6" opacity="0.55" stroke-linejoin="round"/>
<path d="M463.5 313.1 C465.0 313.2 469.5 313.5 472.5 313.8 C475.5 314.2 478.5 314.5 481.5 314.9 C484.5 315.4 487.4 316.0 490.4 316.7 C493.3 317.4 496.2 318.2 499.1 319.1 C502.0 319.9 504.8 320.9 507.6 322.0 C510.5 323.0 513.2 324.2 516.0 325.4 C518.8 326.6 521.5 327.9 524.2 329.3 C526.9 330.6 529.6 332.0 532.2 333.5 C534.8 335.0 537.4 336.6 539.9 338.3 C542.4 339.9 544.8 341.7 547.2 343.6 C549.6 345.4 551.9 347.4 554.1 349.4 C556.3 351.4 558.5 353.5 560.6 355.7 C562.7 357.8 564.7 360.0 566.7 362.3 C568.6 364.6 570.5 367.0 572.2 369.4 C574.0 371.9 575.5 374.5 577.1 377.1 C578.6 379.6 580.2 382.2 581.7 384.8 C583.2 387.4 584.9 389.9 586.2 392.6 C587.4 395.3 588.5 398.1 589.3 400.9 C590.2 403.8 590.7 406.8 591.2 409.7 C591.7 412.7 592.1 415.7 592.4 418.7 C592.7 421.7 593.0 424.7 593.0 427.7 C593.0 430.7 592.9 433.7 592.6 436.7 C592.3 439.7 591.8 442.7 591.2 445.6 C590.6 448.6 589.8 451.5 589.1 454.4 C588.3 457.3 587.4 460.2 586.4 463.0 C585.5 465.9 584.4 468.8 583.4 471.6 C582.3 474.4 581.2 477.2 579.9 479.9 C578.7 482.7 577.4 485.4 576.0 488.1 C574.5 490.7 573.0 493.3 571.3 495.8 C569.6 498.3 567.8 500.7 565.9 503.1 C564.1 505.4 562.0 507.6 560.0 509.9 C557.9 512.1 555.8 514.2 553.6 516.3 C551.5 518.4 549.4 520.5 547.3 522.7 C545.2 524.9 543.2 527.2 541.2 529.4 C539.1 531.6 537.1 533.8 534.9 535.9 C532.7 537.9 530.4 539.8 528.0 541.7 C525.6 543.5 523.1 545.2 520.7 547.0 C518.3 548.8 515.8 550.5 513.4 552.3 C510.9 554.1 508.5 555.9 506.1 557.8 C503.8 559.6 501.4 561.5 499.1 563.4 C496.8 565.4 494.5 567.3 492.1 569.2 C489.8 571.2 487.5 573.1 485.1 575.0 C482.8 576.9 480.4 578.7 478.0 580.6 C475.6 582.4 473.2 584.2 470.8 586.0 C468.4 587.8 464.7 590.5 463.5 591.4 " fill="none" stroke="#34c840" stroke-width="1.6" stroke-linejoin="round"/>
<path d="M463.5 313.1 C465.0 313.2 469.5 313.5 472.5 313.8 C475.5 314.0 478.5 314.3 481.5 314.7 C484.5 315.2 487.4 315.7 490.4 316.4 C493.3 317.0 496.2 317.8 499.1 318.6 C502.0 319.5 504.9 320.4 507.7 321.4 C510.5 322.4 513.3 323.6 516.1 324.7 C518.9 325.9 521.6 327.2 524.3 328.5 C527.0 329.8 529.7 331.2 532.3 332.6 C535.0 334.1 537.6 335.6 540.1 337.3 C542.6 338.9 545.1 340.7 547.4 342.5 C549.8 344.3 552.1 346.3 554.4 348.3 C556.6 350.3 558.8 352.4 560.9 354.5 C563.0 356.7 565.0 358.9 567.0 361.2 C568.9 363.5 570.8 365.8 572.6 368.2 C574.3 370.7 575.9 373.3 577.4 375.8 C579.0 378.4 580.5 381.0 582.0 383.6 C583.4 386.3 585.0 388.8 586.3 391.5 C587.6 394.2 588.7 397.0 589.6 399.8 C590.5 402.7 591.0 405.6 591.6 408.6 C592.2 411.5 592.7 414.5 593.1 417.5 C593.4 420.5 593.8 423.5 594.0 426.5 C594.2 429.5 594.3 432.5 594.2 435.5 C594.1 438.5 593.9 441.5 593.6 444.5 C593.2 447.5 592.7 450.4 592.1 453.4 C591.5 456.3 590.8 459.2 589.9 462.1 C589.1 465.0 588.3 467.9 587.2 470.7 C586.2 473.6 585.2 476.4 583.9 479.1 C582.5 481.7 581.0 484.3 579.2 486.7 C577.5 489.1 575.5 491.4 573.3 493.4 C571.2 495.5 568.8 497.4 566.4 499.1 C563.9 500.8 561.3 502.2 558.6 503.6 C555.9 504.9 553.1 506.0 550.3 507.1 C547.5 508.1 544.6 509.0 541.7 509.7 C538.8 510.4 535.8 511.0 532.9 511.4 C529.9 511.8 526.9 512.0 523.9 512.0 C520.9 512.0 517.9 511.8 515.0 511.4 C512.0 510.9 509.1 510.2 506.2 509.4 C503.3 508.6 500.5 507.6 497.7 506.4 C495.0 505.3 492.3 503.9 489.7 502.4 C487.1 500.9 484.6 499.2 482.1 497.5 C479.7 495.8 477.3 493.9 474.9 492.1 C472.5 490.3 468.9 487.5 467.7 486.6 L467.7 486.6 C468.3 488.0 470.1 492.2 471.0 495.1 C471.9 497.9 472.8 500.9 473.2 503.8 C473.6 506.7 473.6 509.8 473.2 512.7 C472.7 515.6 471.8 518.5 470.7 521.3 C469.6 524.1 467.9 527.2 466.7 529.4 C465.5 531.6 464.0 533.7 463.5 534.6 " fill="none" stroke="#f8c8cc" stroke-width="3.6" opacity="0.4" stroke-linejoin="round"/>
<path d="M463.5 313.1 C465.0 313.2 469.5 313.5 472.5 313.8 C475.5 314.0 478.5 314.3 481.5 314.7 C484.5 315.2 487.4 315.7 490.4 316.4 C493.3 317.0 496.2 317.8 499.1 318.6 C502.0 319.5 504.9 320.4 507.7 321.4 C510.5 322.4 513.3 323.6 516.1 324.7 C518.9 325.9 521.6 327.2 524.3 328.5 C527.0 329.8 529.7 331.2 532.3 332.6 C535.0 334.1 537.6 335.6 540.1 337.3 C542.6 338.9 545.1 340.7 547.4 342.5 C549.8 344.3 552.1 346.3 554.4 348.3 C556.6 350.3 558.8 352.4 560.9 354.5 C563.0 356.7 565.0 358.9 567.0 361.2 C568.9 363.5 570.8 365.8 572.6 368.2 C574.3 370.7 575.9 373.3 577.4 375.8 C579.0 378.4 580.5 381.0 582.0 383.6 C583.4 386.3 585.0 388.8 586.3 391.5 C587.6 394.2 588.7 397.0 589.6 399.8 C590.5 402.7 591.0 405.6 591.6 408.6 C592.2 411.5 592.7 414.5 593.1 417.5 C593.4 420.5 593.8 423.5 594.0 426.5 C594.2 429.5 594.3 432.5 594.2 435.5 C594.1 438.5 593.9 441.5 593.6 444.5 C593.2 447.5 592.7 450.4 592.1 453.4 C591.5 456.3 590.8 459.2 589.9 462.1 C589.1 465.0 588.3 467.9 587.2 470.7 C586.2 473.6 585.2 476.4 583.9 479.1 C582.5 481.7 581.0 484.3 579.2 486.7 C577.5 489.1 575.5 491.4 573.3 493.4 C571.2 495.5 568.8 497.4 566.4 499.1 C563.9 500.8 561.3 502.2 558.6 503.6 C555.9 504.9 553.1 506.0 550.3 507.1 C547.5 508.1 544.6 509.0 541.7 509.7 C538.8 510.4 535.8 511.0 532.9 511.4 C529.9 511.8 526.9 512.0 523.9 512.0 C520.9 512.0 517.9 511.8 515.0 511.4 C512.0 510.9 509.1 510.2 506.2 509.4 C503.3 508.6 500.5 507.6 497.7 506.4 C495.0 505.3 492.3 503.9 489.7 502.4 C487.1 500.9 484.6 499.2 482.1 497.5 C479.7 495.8 477.3 493.9 474.9 492.1 C472.5 490.3 468.9 487.5 467.7 486.6 L467.7 486.6 C468.3 488.0 470.1 492.2 471.0 495.1 C471.9 497.9 472.8 500.9 473.2 503.8 C473.6 506.7 473.6 509.8 473.2 512.7 C472.7 515.6 471.8 518.5 470.7 521.3 C469.6 524.1 467.9 527.2 466.7 529.4 C465.5 531.6 464.0 533.7 463.5 534.6 " fill="none" stroke="#a82030" stroke-width="1.5" stroke-linejoin="round"/>
<path d="M463.5 313.1 C465.0 313.2 469.5 313.6 472.5 313.9 C475.5 314.2 478.5 314.5 481.5 315.0 C484.5 315.5 487.4 316.1 490.3 316.8 C493.3 317.5 496.2 318.3 499.1 319.2 C501.9 320.1 504.8 321.1 507.6 322.1 C510.4 323.2 513.2 324.4 516.0 325.6 C518.7 326.8 521.4 328.1 524.1 329.5 C526.8 330.8 529.5 332.2 532.1 333.7 C534.7 335.3 537.3 336.8 539.8 338.5 C542.3 340.2 544.7 342.0 547.1 343.8 C549.4 345.7 551.8 347.7 554.0 349.7 C556.2 351.7 558.4 353.8 560.5 356.0 C562.6 358.1 564.6 360.4 566.6 362.7 C568.5 365.0 570.4 367.3 572.1 369.8 C573.8 372.2 575.3 374.8 576.8 377.4 C578.3 380.0 579.8 382.7 581.1 385.4 C582.4 388.1 583.7 390.8 584.7 393.7 C585.7 396.5 586.5 399.4 587.1 402.3 C587.8 405.2 588.2 408.2 588.6 411.2 C589.0 414.2 589.3 417.2 589.5 420.2 C589.6 423.2 589.7 426.2 589.6 429.2 C589.4 432.2 589.0 435.2 588.5 438.1 C588.0 441.1 587.3 444.0 586.5 446.9 C585.7 449.8 584.8 452.7 583.7 455.5 C582.7 458.4 581.6 461.2 580.4 463.9 C579.1 466.6 577.7 469.3 576.3 472.0 C574.8 474.6 573.2 477.2 571.5 479.6 C569.7 482.0 567.9 484.4 565.8 486.5 C563.7 488.6 561.4 490.6 559.0 492.2 C556.5 493.9 553.8 495.3 551.1 496.4 C548.4 497.6 545.5 498.5 542.6 499.2 C539.7 499.9 536.7 500.3 533.7 500.6 C530.7 501.0 527.7 501.1 524.7 501.1 C521.7 501.1 518.7 500.9 515.7 500.4 C512.8 500.0 509.8 499.4 506.9 498.7 C504.0 497.9 501.1 497.0 498.2 496.1 C495.3 495.2 492.5 494.2 489.6 493.3 C486.7 492.3 482.4 491.0 481.0 490.5 L481.0 490.5 C481.7 491.8 484.0 495.7 485.4 498.4 C486.8 501.0 488.1 503.8 489.4 506.5 C490.6 509.2 491.8 512.0 493.0 514.7 C494.1 517.5 495.3 520.3 496.2 523.2 C497.1 526.0 497.9 528.9 498.2 531.8 C498.6 534.7 498.6 537.8 498.2 540.7 C497.9 543.6 497.1 546.5 496.0 549.2 C494.9 551.9 493.3 554.5 491.5 556.8 C489.8 559.1 487.6 561.2 485.3 563.1 C483.0 564.9 480.4 566.4 477.7 567.7 C475.1 569.0 471.7 569.9 469.3 570.7 C467.0 571.4 464.5 571.8 463.5 572.0 " fill="none" stroke="#16167a" stroke-width="1.8" stroke-linejoin="round"/>
<path d="M463.5 313.1 C465.0 313.4 469.5 314.2 472.4 314.9 C475.3 315.6 478.3 316.4 481.1 317.4 C484.0 318.3 486.8 319.4 489.5 320.7 C492.3 321.9 495.0 323.3 497.5 324.9 C500.1 326.4 502.6 328.2 504.9 330.1 C507.3 331.9 509.5 334.0 511.5 336.2 C513.5 338.4 515.5 340.8 517.2 343.2 C518.9 345.7 520.4 348.3 521.7 351.0 C523.0 353.7 524.1 356.5 525.0 359.4 C525.9 362.3 526.6 365.2 527.0 368.2 C527.4 371.1 527.7 374.2 527.6 377.1 C527.5 380.1 527.0 383.1 526.3 386.0 C525.7 389.0 524.7 391.8 523.7 394.7 C522.7 397.5 521.5 400.3 520.3 403.1 C519.1 405.9 517.8 408.6 516.5 411.3 C515.1 414.0 513.7 416.7 512.2 419.4 C510.8 422.0 509.2 424.6 507.7 427.2 C506.2 429.9 504.7 432.5 503.2 435.2 C501.8 437.8 500.4 440.5 498.9 443.2 C497.5 445.8 495.4 449.9 494.7 451.2 L494.7 451.2 C496.2 451.1 500.7 451.0 503.7 450.8 C506.7 450.6 509.7 450.3 512.7 450.0 C515.7 449.7 518.7 449.4 521.7 449.1 C524.6 448.8 527.6 448.5 530.6 448.3 C533.6 448.1 536.7 447.9 539.6 448.0 C542.6 448.1 545.7 448.2 548.3 449.1 C551.0 449.9 553.7 451.2 555.5 453.1 C557.2 454.9 558.5 457.6 559.0 460.2 C559.5 462.8 559.1 465.9 558.4 468.6 C557.6 471.2 556.1 474.0 554.4 476.3 C552.7 478.6 550.5 480.6 548.2 482.4 C545.8 484.2 543.2 485.7 540.5 487.0 C537.8 488.2 535.0 489.2 532.1 489.9 C529.2 490.6 526.3 491.1 523.3 491.4 C520.3 491.7 517.3 491.8 514.3 491.8 C511.3 491.9 506.8 491.6 505.3 491.6 L505.3 491.6 C506.0 492.9 508.2 497.0 509.6 499.7 C510.9 502.4 512.3 505.1 513.6 507.9 C514.8 510.7 516.1 513.4 517.1 516.3 C518.1 519.1 519.1 522.1 519.4 524.9 C519.8 527.8 519.3 531.6 519.2 533.5 C519.1 535.4 518.7 535.8 518.6 536.3 L518.6 536.3 C517.1 535.8 512.7 534.2 509.8 533.1 C506.9 532.1 504.1 530.6 501.2 529.9 C498.3 529.3 495.3 528.6 492.5 529.0 C489.7 529.4 487.0 530.7 484.6 532.3 C482.1 533.9 480.1 536.3 477.9 538.5 C475.8 540.8 473.9 543.3 471.8 545.6 C469.8 547.9 467.0 551.0 465.6 552.6 C464.2 554.1 463.8 554.5 463.5 554.9 " fill="none" stroke="#0a0a0a" stroke-width="2.0" stroke-linejoin="round"/>
</svg></body></html>
